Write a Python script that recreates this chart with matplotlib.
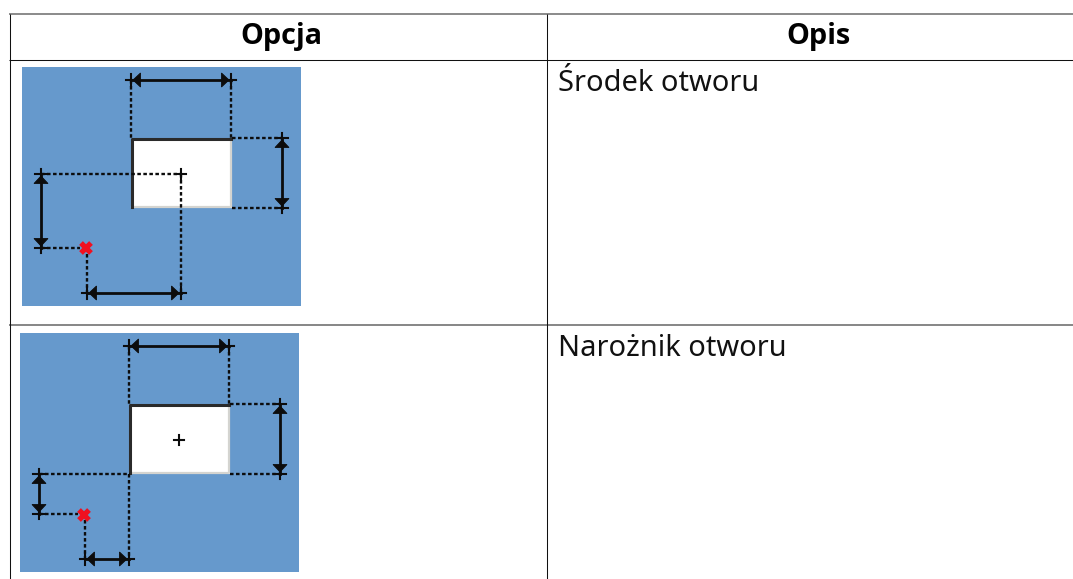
import matplotlib
matplotlib.use('Agg')
import matplotlib.pyplot as plt
from matplotlib.patches import Rectangle, Polygon

plt.rcParams['font.family'] = ['Noto Sans', 'DejaVu Sans']

naglowki = ['Opcja', 'Opis']
opisy = ['Środek otworu', 'Narożnik otworu']

# geometria w pikselach obrazka
tlo = [(22, 67), (20, 333)]
otwor = [(132, 139), (130, 405)]
znacznik = [(86, 248), (84, 515)]
srodek = [(181, 174), (179, 440)]

# wymiary: (x1, x2, y) poziome, (x, y1, y2) pionowe
wym_poziome = [[(131, 231, 80), (87, 181, 293)], [(129, 229, 346), (85, 129, 559)]]
wym_pionowe = [[(282, 138, 208), (41, 174, 248)], [(280, 404, 474), (39, 474, 514)]]

# linie pomocnicze
przer_1 = [[(131, 80), (131, 139)], [(231, 80), (231, 139)], [(232, 138), (282, 138)],
           [(232, 208), (282, 208)], [(41, 174), (181, 174)], [(41, 248), (80, 248)],
           [(87, 254), (87, 293)], [(181, 174), (181, 293)]]
przer_2 = [[(129, 346), (129, 405)], [(229, 346), (229, 405)], [(230, 404), (280, 404)],
           [(230, 474), (280, 474)], [(39, 474), (130, 474)], [(39, 514), (78, 514)],
           [(85, 520), (85, 559)], [(129, 474), (129, 559)]]
przerywane = [przer_1, przer_2]

fig = plt.figure(figsize=(10.73, 5.79), dpi=100)
ax = fig.add_axes([0, 0, 1, 1])
ax.set_xlim(0, 1073)
ax.set_ylim(579, 0)
ax.axis('off')

NIEB = '#6699cc'
CZ = '#0c0c0c'


def grot(x, y, dx, dy):
    s = 7.5
    w = 7
    if dx:
        pts = [(x, y), (x + dx * s, y - w), (x + dx * s, y + w)]
    else:
        pts = [(x, y), (x - w, y + dy * s), (x + w, y + dy * s)]
    ax.add_patch(Polygon(pts, closed=True, fc=CZ, ec=CZ, lw=0.6, zorder=5))


def rysuj(i):
    x0, y0 = tlo[i]
    ax.add_patch(Rectangle((x0, y0), 279, 239, fc=NIEB, ec='none', zorder=1))
    hx, hy = otwor[i]
    ax.add_patch(Rectangle((hx, hy), 100, 69, fc='white', ec='none', zorder=2))
    ax.plot([hx + 99, hx + 99, hx], [hy, hy + 68, hy + 68], color='#d4d4d0', lw=1.6, zorder=3)
    ax.plot([hx, hx, hx + 99], [hy + 68, hy, hy], color='#2a2a2a', lw=2.2, zorder=3)
    for a, b in przerywane[i]:
        ax.plot([a[0], b[0]], [a[1], b[1]], color=CZ, lw=1.7, dashes=(1.5, 1.05), zorder=4)
    for x1, x2, y in wym_poziome[i]:
        ax.plot([x1, x2], [y, y], color=CZ, lw=2, zorder=5)
        for x in (x1, x2):
            ax.plot([x - 5, x + 5], [y, y], color=CZ, lw=1.5, zorder=5)
            ax.plot([x, x], [y - 6, y + 6], color=CZ, lw=1.5, zorder=5)
        grot(x1 + 2, y, 1, 0)
        grot(x2 - 2, y, -1, 0)
    for x, y1, y2 in wym_pionowe[i]:
        ax.plot([x, x], [y1, y2], color=CZ, lw=2, zorder=5)
        for y in (y1, y2):
            ax.plot([x - 6, x + 6], [y, y], color=CZ, lw=1.5, zorder=5)
            ax.plot([x, x], [y - 5, y + 5], color=CZ, lw=1.5, zorder=5)
        grot(x, y1 + 2, 0, 1)
        grot(x, y2 - 2, 0, -1)
    mx, my = znacznik[i]
    ax.plot([mx - 5, mx + 5], [my - 5, my + 5], color='#f01020', lw=3.8, zorder=6, solid_capstyle='butt')
    ax.plot([mx - 5, mx + 5], [my + 5, my - 5], color='#f01020', lw=3.8, zorder=6, solid_capstyle='butt')
    sx, sy = srodek[i]
    ax.plot([sx - 5, sx + 5], [sy, sy], color=CZ, lw=1.5, zorder=6)
    ax.plot([sx, sx], [sy - 5, sy + 5], color=CZ, lw=1.5, zorder=6)


# siatka tabeli
kw = dict(solid_capstyle='butt')
ax.plot([9.3, 1073], [14.3, 14.3], color='#777777', lw=1.2, **kw)
ax.plot([9.3, 1073], [59.5, 59.5], color='#111111', lw=0.75, **kw)
ax.plot([9.3, 1073], [325.3, 325.3], color='#666666', lw=1.1, **kw)
ax.plot([9.8, 9.8], [14, 579], color='#111111', lw=0.75, **kw)
ax.plot([547.4, 547.4], [14, 579], color='#111111', lw=0.75, **kw)

for x, t in zip((281.5, 819), naglowki):
    ax.text(x, 44, t, family=['Open Sans', 'Noto Sans'], fontsize=20.8, fontweight='bold', ha='center', va='baseline', color='black')
ax.text(558, 91, opisy[0], fontsize=20.9, color='#111111', va='baseline')
ax.text(558, 356, opisy[1], fontsize=20.9, color='#111111', va='baseline')

rysuj(0)
rysuj(1)

fig.savefig('out.png', dpi=100)
